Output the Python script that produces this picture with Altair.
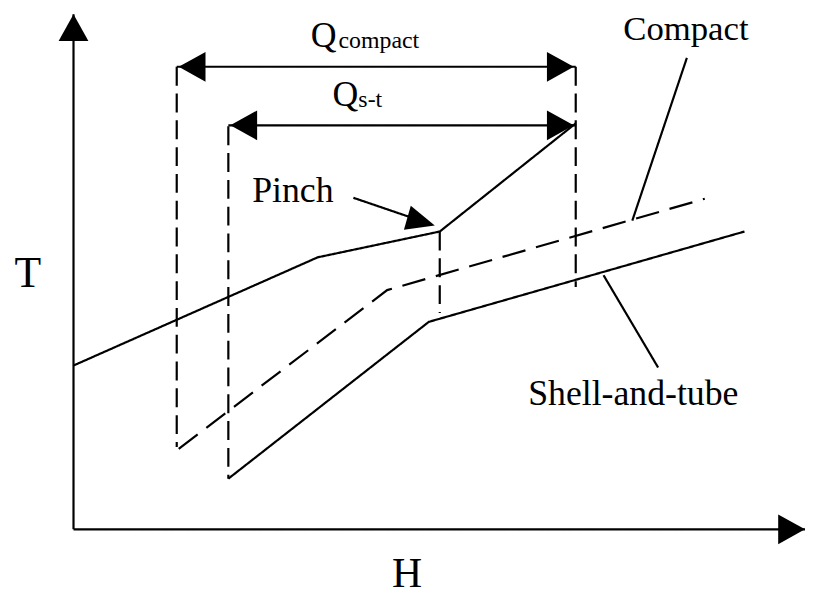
import altair as alt
import pandas as pd

# ---- schematic values (H = enthalpy, T = temperature, arbitrary units) ----
# Hot composite curve (solid)
hot_H = [0, 246, 369, 506]
hot_T = [165, 274, 300, 409]
# Cold composite curve for compact exchanger (dashed)
compact_H = [106, 316, 636]
compact_T = [81, 241, 333]
# Cold composite curve for shell-and-tube exchanger (solid)
shell_H = [156, 358, 676]
shell_T = [51, 209, 300]

# Vertical dashed guides (H position, top T, bottom T)
guide_H = [104, 156, 506, 369]
guide_top = [466, 406, 466, 300]
guide_bottom = [83, 51, 244, 218]

# Duty spans Q_compact and Q_s-t
span_left = [104, 156]
span_right = [506, 506]
span_level = [466, 407]

# Axis extents
axis_T_max = 519
axis_H_max = 737

# Leader lines: (H1, T1, H2, T2)
lead_compact = [618, 475, 563, 311]
lead_shell = [534, 256, 589, 163]
pinch_arrow = [282, 334, 364, 306]

rows = []
def add(name, style, Hs, Ts):
    for i, (h, t) in enumerate(zip(Hs, Ts)):
        rows.append({"series": name, "style": style, "order": i, "H": h, "T": t})

add("hot", "solid", hot_H, hot_T)
add("compact", "dashC", compact_H, compact_T)
add("shell", "solid", shell_H, shell_T)
for i, h in enumerate(guide_H):
    add(f"guide{i}", "dashV", [h, h], [guide_top[i], guide_bottom[i]])
add("axes", "solid", [0, 0, axis_H_max], [axis_T_max, 0, 0])
for i in range(2):
    add(f"span{i}", "solid", [span_left[i], span_right[i]], [span_level[i], span_level[i]])
add("lead_c", "solid", [lead_compact[0], lead_compact[2]], [lead_compact[1], lead_compact[3]])
add("lead_s", "solid", [lead_shell[0], lead_shell[2]], [lead_shell[1], lead_shell[3]])
add("pinch", "solid", [pinch_arrow[0], pinch_arrow[2] - 14], [pinch_arrow[1], pinch_arrow[3] + 4.8])
lines = pd.DataFrame(rows)

heads = pd.DataFrame({
    "H": [0, axis_H_max, span_left[0] + 2, span_right[0] - 2, span_left[1] + 2, span_right[1] - 2],
    "T": [axis_T_max, 0, span_level[0], span_level[0], span_level[1], span_level[1]],
    "angle": [270, 0, 180, 0, 180, 0],
})
pinch_head = pd.DataFrame({"H": [pinch_arrow[2]], "T": [pinch_arrow[3]], "angle": [16]})

labels = pd.DataFrame({
    "text": ["T", "H", "Pinch", "Compact", "Shell-and-tube"],
    "H": [-46, 336, 221, 617, 564],
    "T": [257, -45, 341, 504, 136],
    "size": [44, 42, 36, 35, 36],
})
qlabels = pd.DataFrame({
    "text": ["Q", "compact", "Q", "s-t"],
    "H": [239, 267, 261, 287],
    "T": [486, 485, 426, 425],
    "size": [36, 24, 36, 24],
})

W, Hh = 804, 588
xs = alt.Scale(domain=[-66, 738], nice=False, zero=False)
ys = alt.Scale(domain=[-65, 523], nice=False, zero=False)
X = alt.X("H:Q", scale=xs, axis=None)
Y = alt.Y("T:Q", scale=ys, axis=None)

line_layer = alt.Chart(lines).mark_line(color="black", strokeWidth=2.2, clip=False).encode(
    x=X, y=Y, detail="series:N", order="order:Q",
    strokeDash=alt.StrokeDash("style:N", legend=None,
        scale=alt.Scale(domain=["solid", "dashC", "dashV"], range=[[1, 0], [24, 11], [19, 8]])),
)

head_layer = alt.Chart(heads).mark_point(
    shape="M0,0L-1.8,-1L-1.8,1Z", filled=True, color="black", opacity=1, size=900, clip=False
).encode(x=X, y=Y, angle=alt.Angle("angle:Q", scale=None))

pinch_layer = alt.Chart(pinch_head).mark_point(
    shape="M0,0L-2.3,-1L-2.3,1Z", filled=True, color="black", opacity=1, size=625, clip=False
).encode(x=X, y=Y, angle=alt.Angle("angle:Q", scale=None))

text_layer = alt.Chart(labels).mark_text(
    font="Liberation Serif", color="black", align="center", baseline="middle"
).encode(x=X, y=Y, text="text:N", size=alt.Size("size:Q", scale=None))

q_layer = alt.Chart(qlabels).mark_text(
    font="Liberation Serif", color="black", align="left", baseline="alphabetic"
).encode(x=X, y=Y, text="text:N", size=alt.Size("size:Q", scale=None))

chart = alt.layer(line_layer, head_layer, pinch_layer, text_layer, q_layer).properties(
    width=W, height=Hh, padding=0, autosize=alt.AutoSizeParams(type="none"), background="white"
).configure_view(stroke=None)

chart.save("out.html", embed_options={"renderer": "svg", "actions": False})
